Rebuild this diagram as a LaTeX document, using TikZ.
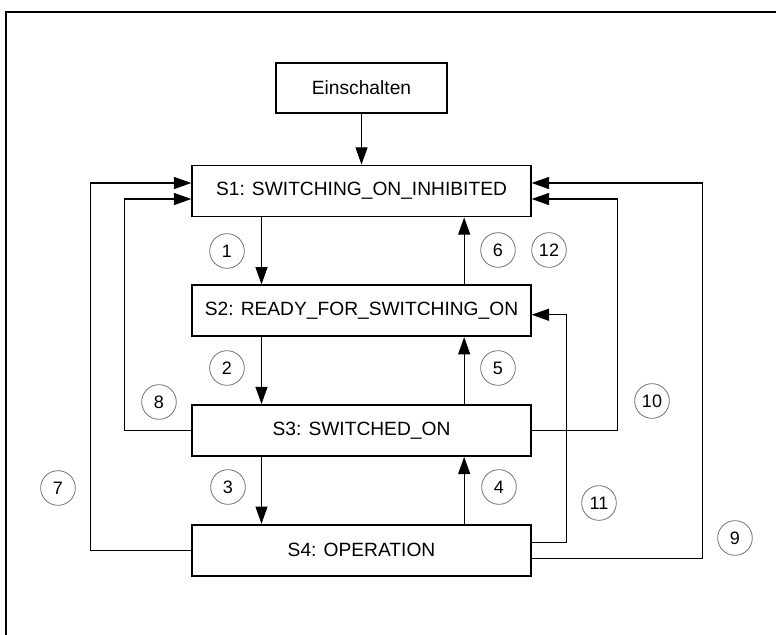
\documentclass[tikz,border=0pt]{standalone}
\usepackage{fontspec}
\setmainfont{Liberation Sans}
\usetikzlibrary{arrows.meta, calc, positioning}
\tikzstyle{state} = [rectangle, line width=1.3pt, minimum width=254pt, minimum height=38.25pt, text centered, draw=black, font=\fontsize{14.4}{16}\selectfont]
\tikzstyle{startbox} = [rectangle, line width=1.3pt, minimum width=128pt, minimum height=37.5pt, text centered, draw=black, font=\fontsize{14.4}{16}\selectfont]
\tikzstyle{num} = [circle, draw=black!55, line width=0.6pt, minimum size=26pt, inner sep=0pt, font=\fontsize{13.5}{15}\selectfont]
\tikzstyle{arrow} = [line width=1pt, -{Triangle[length=13pt,width=9pt]}]
\tikzstyle{frame} = [line width=2.2pt]

\begin{document}
\begin{tikzpicture}[x=0.75pt, y=-0.75pt, node distance = 50.25pt]
		\useasboundingbox (0,0) rectangle (776,635);
		\draw [frame] (6,635) -- (6,12) -- (776,12);

		\node (S1) [state] at (361.5,191) {S1: SWITCHING\_ON\_INHIBITED};
		\node (Einschalten) [startbox, above = 38.25pt of S1] {Einschalten};
		\node (S2) [state, below = of S1] {S2: READY\_FOR\_SWITCHING\_ON};
		\node (S3) [state, below = of S2] {S3: SWITCHED\_ON};
		\node (S4) [state, below = of S3] {S4: OPERATION};

		\node (N1) [num] at (227,251) {1};
		\node (N2) [num] at (227,368) {2};
		\node (N3) [num] at (228,487) {3};
		\node (N4) [num] at (499,487) {4};
		\node (N5) [num] at (498,368) {5};
		\node (N6) [num] at (498,250) {6};
		\node (N7) [num] at (58,488) {7};
		\node (N8) [num] at (159,402) {8};
		\node (N9) [num] at (735,538) {9};
		\node (N10) [num] at (652,401) {10};
		\node (N11) [num] at (599,503) {11};
		\node (N12) [num] at (549,250) {12};

		\draw [arrow] (Einschalten) -- (S1);
		\draw [arrow] ([xshift=-75pt]S1.south) -- ([xshift=-75pt]S2.north);
		\draw [arrow] ([xshift=-75pt]S2.south) -- ([xshift=-75pt]S3.north);
		\draw [arrow] ([xshift=-75pt]S3.south) -- ([xshift=-75pt]S4.north);
		\draw [arrow] ([xshift=77pt]S4.north) -- ([xshift=77pt]S3.south);
		\draw [arrow] ([xshift=77pt]S3.north) -- ([xshift=77pt]S2.south);
		\draw [arrow] ([xshift=77pt]S2.north) -- ([xshift=77pt]S1.south);

		\draw [arrow] (S4.west) -- ++(-101,0) |- ([yshift=6pt]S1.west);
		\draw [arrow] (S3.west) -- ++(-67,0) |- ([yshift=-6pt]S1.west);
		\draw [arrow] ([yshift=-6pt]S4.east) -- ++(171,0) |- ([yshift=6pt]S1.east);
		\draw [arrow] (S3.east) -- ++(86,0) |- ([yshift=-6pt]S1.east);
		\draw [arrow] ([yshift=6pt]S4.east) -- ++(35,0) |- ([yshift=-3pt]S2.east);
	\end{tikzpicture}
\end{document}
